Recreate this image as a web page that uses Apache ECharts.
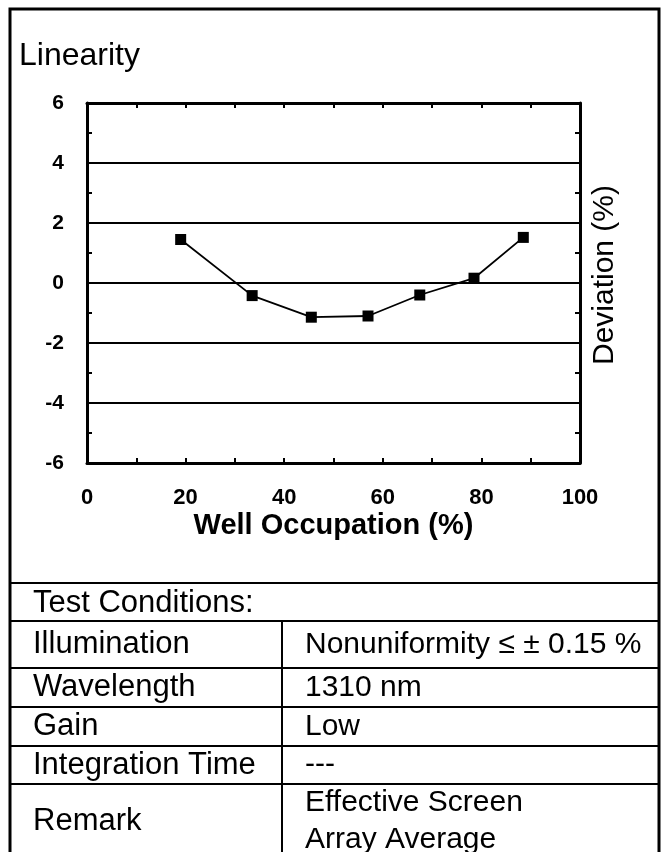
<!DOCTYPE html>
<html>
<head>
<meta charset="utf-8">
<script src="https://cdn.jsdelivr.net/npm/echarts@6/dist/echarts.min.js"></script>
<style>
  html, body { margin: 0; padding: 0; background: #fff; }
  #chart { width: 665px; height: 852px; }
</style>
</head>
<body>
<div id="chart"></div>
<script>
// data
const wellOccupation = [19, 33.5, 45.5, 57, 67.5, 78.5, 88.5]
const deviation = [1.45, -0.42, -1.14, -1.1, -0.4, 0.16, 1.52]

// test condition table
const conditionNames = ['Illumination', 'Wavelength', 'Gain', 'Integration Time', 'Remark']
const conditionValues = ['Nonuniformity \u2264 \u00b1 0.15 %', '1310 nm', 'Low', '---', 'Effective Screen\nArray Average']

const font = '"Liberation Sans", Arial, sans-serif'
const myChart = echarts.init(document.getElementById('chart'), null, { renderer: 'canvas' })

const frameAxis = {
  axisLine: { show: true, onZero: false, lineStyle: { color: '#000', width: 3 } },
  axisTick: { show: true, inside: true, length: 5, lineStyle: { color: '#000', width: 2 } },
  minorTick: { show: true, splitNumber: 2, length: 5, lineStyle: { color: '#000', width: 2 } }
}
const tickText = { color: '#000', fontSize: 21, fontWeight: 'bold', fontFamily: font }

// table layout (pixels)
const rowEdges = [583, 621, 668, 707, 746, 784]
const colX = 282
const graphics = [
  { type: 'rect', shape: { x: 10, y: 9, width: 649, height: 900 }, style: { fill: 'none', stroke: '#000', lineWidth: 3 } },
  { type: 'text', x: 33, y: 603, style: { text: 'Test Conditions:', fill: '#000', fontSize: 31, fontFamily: font, verticalAlign: 'middle' } },
  { type: 'line', shape: { x1: colX, y1: rowEdges[1], x2: colX, y2: 860 }, style: { stroke: '#000', lineWidth: 2 } }
]
rowEdges.forEach(y => {
  graphics.push({ type: 'line', shape: { x1: 10, y1: y, x2: 659, y2: y }, style: { stroke: '#000', lineWidth: 2 } })
})
conditionNames.forEach((name, i) => {
  let top = rowEdges[i + 1]
  let bottom = i + 2 < rowEdges.length ? rowEdges[i + 2] : 860
  let mid = (top + bottom) / 2
  if (i == conditionNames.length - 1) mid = 821.5
  graphics.push({ type: 'text', x: 33, y: mid, style: { text: name, fill: '#000', fontSize: 31, fontFamily: font, verticalAlign: 'middle' } })
  graphics.push({ type: 'text', x: 305, y: mid, style: { text: conditionValues[i], fill: '#000', fontSize: 30, lineHeight: 37, fontFamily: font, verticalAlign: 'middle' } })
})

myChart.setOption({
  animation: false,
  backgroundColor: '#fff',
  title: {
    text: 'Linearity',
    left: 14,
    top: 35,
    textStyle: { color: '#000', fontSize: 32, fontWeight: 'normal', fontFamily: font }
  },
  grid: { left: 87, right: 85, top: 103, height: 360 },
  xAxis: [
    {
      type: 'value', min: 0, max: 100, interval: 20, position: 'bottom',
      ...frameAxis,
      axisLabel: { margin: 24, ...tickText, fontSize: 22 },
      splitLine: { show: false },
      name: 'Well Occupation (%)',
      nameLocation: 'middle',
      nameGap: 48,
      nameTextStyle: { color: '#000', fontSize: 29, fontWeight: 'bold', fontFamily: font }
    },
    {
      type: 'value', min: 0, max: 100, interval: 20, position: 'top',
      ...frameAxis,
      axisLabel: { show: false },
      splitLine: { show: false }
    }
  ],
  yAxis: [
    {
      type: 'value', min: -6, max: 6, interval: 2, position: 'left',
      ...frameAxis,
      axisLabel: { margin: 23, ...tickText },
      splitLine: { show: true, lineStyle: { color: '#000', width: 2 } }
    },
    {
      type: 'value', min: -6, max: 6, interval: 2, position: 'right',
      ...frameAxis,
      axisLabel: { show: false },
      splitLine: { show: false },
      name: 'Deviation (%)',
      nameLocation: 'middle',
      nameGap: 10,
      nameRotate: 90,
      nameTextStyle: { color: '#000', fontSize: 30, fontFamily: font, padding: [0, 0, 0, 16] }
    }
  ],
  series: [
    {
      type: 'line',
      xAxisIndex: 0,
      yAxisIndex: 0,
      data: wellOccupation.map((x, i) => [x, deviation[i]]),
      symbol: 'rect',
      symbolSize: 11,
      itemStyle: { color: '#000' },
      lineStyle: { color: '#000', width: 1.8 },
      z: 5
    }
  ],
  graphic: graphics
})
</script>
</body>
</html>
